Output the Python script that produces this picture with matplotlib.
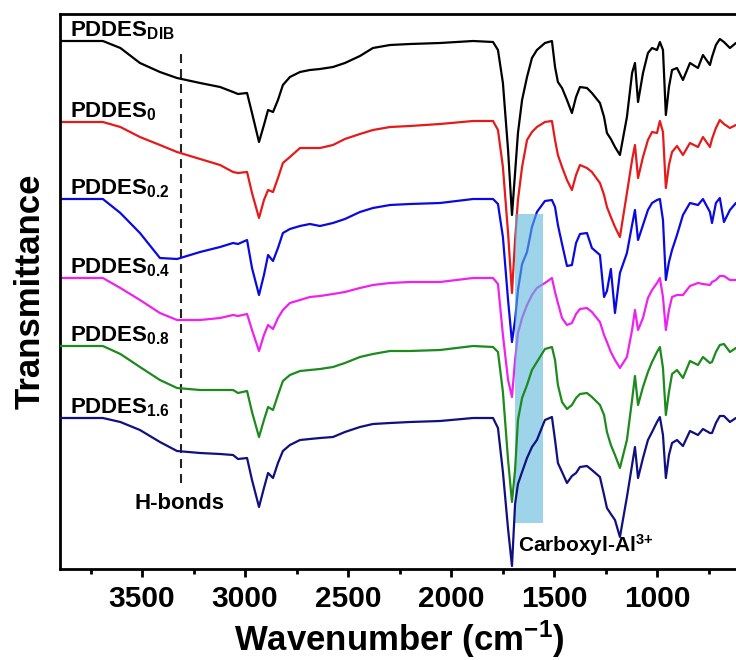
import matplotlib
matplotlib.use("Agg")
import matplotlib.pyplot as plt
from matplotlib.patches import Rectangle
from matplotlib.ticker import MultipleLocator

# FTIR spectra, stacked with vertical offsets (arbitrary transmittance units)
wavenumber = [3900, 3690, 3605, 3510, 3413, 3330, 3218, 3121, 3058, 3034,
              2990, 2966, 2932, 2908, 2888, 2864, 2840, 2816, 2782, 2733,
              2685, 2636, 2573, 2515, 2442, 2379, 2296, 2199, 2053, 1893,
              1796, 1772, 1748, 1723, 1704, 1689, 1675, 1655, 1631, 1607,
              1583, 1544, 1510, 1495, 1481, 1461, 1437, 1413, 1393, 1374,
              1340, 1316, 1277, 1257, 1243, 1224, 1204, 1180, 1146, 1121,
              1107, 1092, 1068, 1044, 1024, 1000, 986, 971, 957, 942,
              927, 903, 874, 840, 801, 777, 743, 733, 714, 695,
              675, 646, 617]

pddes_dib = [528, 528, 521, 506, 497, 491, 486, 482, 477, 475,
             476, 456, 427, 444, 459, 457, 469, 484, 492, 497,
             499, 500, 502, 506, 513, 521, 524, 525, 526, 528,
             527, 519, 486, 419, 354, 396, 436, 469, 492, 511,
             519, 526, 528, 502, 487, 481, 469, 456, 472, 482,
             481, 476, 466, 452, 436, 430, 422, 414, 452, 496,
             506, 467, 496, 516, 521, 519, 527, 519, 454, 482,
             499, 501, 489, 506, 501, 514, 504, 512, 524, 530,
             527, 521, 526]

pddes_0 = [447, 447, 442, 432, 424, 417, 410, 404, 397, 396,
           397, 376, 351, 369, 379, 377, 391, 406, 412, 421,
           421, 421, 424, 430, 435, 439, 442, 443, 445, 448,
           448, 439, 402, 336, 276, 329, 369, 402, 429, 437,
           442, 447, 448, 429, 414, 402, 389, 379, 394, 404,
           401, 397, 386, 374, 362, 352, 342, 332, 376, 409,
           424, 391, 412, 429, 437, 436, 448, 437, 381, 404,
           417, 423, 414, 426, 422, 432, 422, 430, 441, 449,
           445, 441, 444]

pddes_02 = [370, 370, 356, 336, 311, 310, 317, 322, 326, 325,
            329, 301, 274, 294, 314, 308, 321, 336, 340, 343,
            345, 343, 346, 350, 357, 361, 364, 365, 366, 370,
            370, 365, 332, 269, 227, 249, 279, 305, 317, 342,
            357, 368, 369, 362, 344, 325, 303, 304, 326, 335,
            336, 321, 314, 272, 278, 300, 256, 296, 316, 344,
            359, 329, 344, 359, 366, 369, 370, 349, 289, 307,
            319, 334, 354, 366, 364, 370, 357, 346, 366, 371,
            347, 359, 366]

pddes_04 = [291, 291, 281, 269, 256, 249, 249, 251, 254, 253,
            255, 239, 218, 234, 244, 240, 251, 259, 266, 269,
            272, 273, 275, 277, 281, 284, 286, 287, 287, 291,
            291, 285, 234, 189, 172, 209, 236, 251, 264, 274,
            281, 286, 291, 277, 266, 251, 244, 246, 255, 260,
            261, 257, 247, 234, 227, 217, 209, 201, 212, 239,
            259, 239, 251, 271, 279, 286, 291, 272, 239, 259,
            272, 274, 274, 283, 286, 285, 284, 287, 289, 293,
            293, 289, 289]

pddes_08 = [223, 223, 215, 202, 189, 181, 179, 179, 179, 176,
            178, 157, 132, 149, 162, 159, 174, 188, 194, 198,
            199, 200, 202, 206, 212, 215, 218, 218, 219, 223,
            222, 217, 177, 109, 67, 99, 149, 171, 184, 199,
            207, 220, 222, 209, 184, 167, 160, 164, 171, 175,
            176, 172, 164, 154, 137, 124, 114, 101, 129, 169,
            193, 164, 182, 197, 207, 217, 222, 201, 154, 177,
            195, 199, 191, 208, 204, 212, 206, 207, 217, 224,
            225, 217, 221]

pddes_16 = [151, 151, 147, 139, 127, 118, 116, 115, 114, 110,
            111, 89, 62, 81, 96, 91, 106, 118, 124, 129,
            130, 131, 132, 137, 142, 145, 146, 147, 148, 151,
            151, 141, 97, 40, 3, 65, 85, 97, 111, 122,
            129, 149, 152, 129, 106, 97, 86, 93, 96, 102,
            103, 99, 92, 74, 61, 55, 49, 32, 72, 104,
            122, 91, 111, 129, 137, 147, 152, 134, 91, 114,
            126, 129, 123, 138, 134, 140, 136, 136, 146, 153,
            153, 147, 151]

spectra = [pddes_dib, pddes_0, pddes_02, pddes_04, pddes_08, pddes_16]
names = ["PDDES$_{DIB}$", "PDDES$_{0}$", "PDDES$_{0.2}$",
         "PDDES$_{0.4}$", "PDDES$_{0.8}$", "PDDES$_{1.6}$"]
colors = ["#000000", "#e51a1a", "#0a0ae0", "#ee22ee", "#1c8a1c", "#101080"]

hbond_wn = 3310
carboxyl_band = (1689, 1554)

plt.rcParams["font.family"] = "Liberation Sans"
plt.rcParams["font.weight"] = "bold"
plt.rcParams["mathtext.fontset"] = "custom"
plt.rcParams["mathtext.bf"] = "Liberation Sans:bold"
plt.rcParams["mathtext.rm"] = "Liberation Sans:bold"
plt.rcParams["mathtext.default"] = "bf"

fig = plt.figure(figsize=(7.36, 6.6), dpi=100)
ax = fig.add_axes([59.6 / 736, 91 / 660, 679.8 / 736, 555 / 660])

for i, (y, name, c) in enumerate(zip(spectra, names, colors)):
    z = 2 if i < 4 else 3
    ax.plot(wavenumber, y, color=c, lw=1.6, zorder=z,
            solid_joinstyle="round", solid_capstyle="round")
    ax.text(3850, y[0] + 5, name, fontsize=16, fontweight="bold",
            ha="left", va="baseline", zorder=4)

# carboxyl-Al3+ band
ax.add_patch(Rectangle((carboxyl_band[0], 46), carboxyl_band[1] - carboxyl_band[0], 309,
                       facecolor="#5cb8dc", alpha=0.6, edgecolor="none", zorder=2.5))
ax.text(1675, 17, "Carboxyl-Al$^{3{+}}$", fontsize=15, fontweight="bold",
        ha="left", va="baseline")

# H-bond marker
ax.plot([hbond_wn, hbond_wn], [86, 517], color="#222222", lw=1.5,
        linestyle=(0, (4.3, 2.9)), zorder=1)
ax.text(3534, 60, "H-bonds", fontsize=16, fontweight="bold", ha="left", va="baseline")

ax.set_xlim(3900, 600)
ax.set_ylim(0, 555)
ax.xaxis.set_major_locator(MultipleLocator(500))
ax.xaxis.set_minor_locator(MultipleLocator(250))
ax.set_yticks([])
ax.tick_params(axis="x", which="major", length=5.5, width=2, pad=6, labelsize=21.5)
ax.tick_params(axis="x", which="minor", length=3.5, width=2)
for lab in ax.get_xticklabels():
    lab.set_fontweight("bold")
for s in ax.spines.values():
    s.set_linewidth(2)
ax.spines["right"].set_visible(False)

ax.set_xlabel("Wavenumber (cm$^{-1}$)", fontsize=25, fontweight="bold", labelpad=4)
ax.set_ylabel("Transmittance", fontsize=25, fontweight="bold", labelpad=9)

fig.savefig("out.png", dpi=100)
